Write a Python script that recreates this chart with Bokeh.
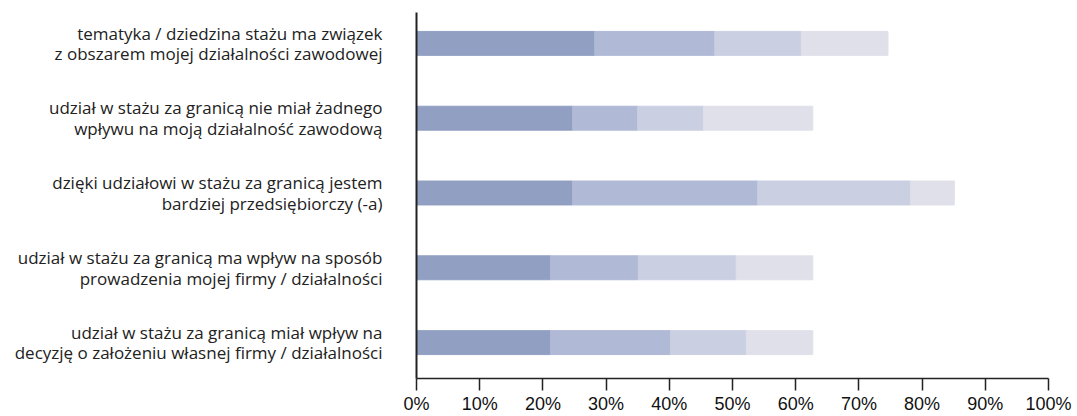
from bokeh.plotting import figure
from bokeh.models import ColumnDataSource, Range1d, FixedTicker, PrintfTickFormatter
from bokeh.embed import file_html
from bokeh.resources import INLINE

categories = [
    "tematyka / dziedzina stażu ma związek\nz obszarem mojej działalności zawodowej",
    "udział w stażu za granicą nie miał żadnego\nwpływu na moją działalność zawodową",
    "dzięki udziałowi w stażu za granicą jestem\nbardziej przedsiębiorczy (-a)",
    "udział w stażu za granicą ma wpływ na sposób\nprowadzenia mojej firmy / działalności",
    "udział w stażu za granicą miał wpływ na\ndecyzję o założeniu własnej firmy / działalności",
]
seg1 = [28.2, 24.7, 24.7, 21.2, 21.2]
seg2 = [19.0, 10.3, 29.3, 13.9, 19.0]
seg3 = [13.7, 10.4, 24.2, 15.5, 12.0]
seg4 = [13.7, 17.3, 6.9, 12.1, 10.5]
colors = ["#919fc2", "#b0b9d6", "#cacfe2", "#e0e0ea"]
x_ticks = list(range(0, 101, 10))

pos = list(range(len(categories)))
src = ColumnDataSource(dict(pos=pos, s1=seg1, s2=seg2, s3=seg3, s4=seg4))

p = figure(width=1077, height=416, x_range=Range1d(0, 100), y_range=Range1d(4.48, -0.413),
           output_backend="svg", toolbar_location=None,
           min_border_left=416, min_border_right=29, min_border_top=12, min_border_bottom=0)
p.hbar_stack(["s1", "s2", "s3", "s4"], y="pos", height=0.32, color=colors, source=src)

p.xgrid.grid_line_color = None
p.ygrid.grid_line_color = None
p.outline_line_color = None

ya = p.yaxis[0]
ya.ticker = FixedTicker(ticks=pos)
ya.major_label_overrides = {i: c for i, c in zip(pos, categories)}
ya.major_tick_line_color = None
ya.minor_tick_line_color = None
ya.major_label_standoff = 28
ya.axis_line_width = 2
ya.axis_line_color = "#222222"
ya.major_label_text_font = "Open Sans"
ya.major_label_text_font_size = "17px"
ya.major_label_text_color = "#222222"
ya.major_label_text_line_height = 0.9

xa = p.xaxis[0]
xa.ticker = FixedTicker(ticks=x_ticks)
xa.formatter = PrintfTickFormatter(format="%d%%")
xa.major_tick_out = 12
xa.major_tick_in = 0
xa.minor_tick_line_color = None
xa.major_tick_line_width = 1.5
xa.major_tick_line_color = "#222222"
xa.axis_line_width = 1.5
xa.axis_line_color = "#222222"
xa.major_label_standoff = 3
xa.major_label_text_font = "Liberation Sans"
xa.major_label_text_font_size = "18px"
xa.major_label_text_color = "#111111"

open("out.html", "w").write(file_html(p, INLINE))
